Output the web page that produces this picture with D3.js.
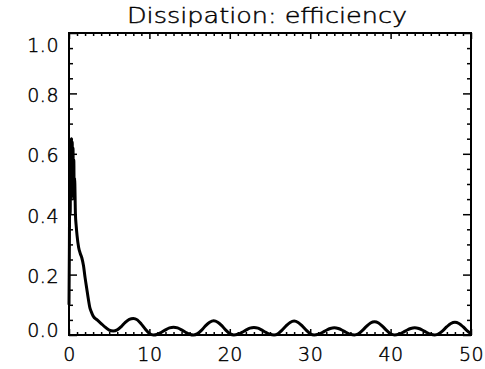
<!DOCTYPE html>
<html>
<head>
<meta charset="utf-8">
<script src="https://cdn.jsdelivr.net/npm/d3@7"></script>
<style>
	body { margin: 0; background: #fff; }
	svg { display: block; }
	text { font-family: "DejaVu Sans", sans-serif; fill: #000; }
</style>
</head>
<body>
<svg id="chart"></svg>
<script>
var width = 485,
	height = 369;

var margin = {top: 33, right: 14, bottom: 34, left: 69};

var titleText = 'Dissipation: efficiency';

var xTicks = [0, 10, 20, 30, 40, 50],
	yTicks = [0.0, 0.2, 0.4, 0.6, 0.8, 1.0];

// time (x) and efficiency (y)
var timeVals = [
	0, 0.05, 0.1, 0.15, 0.2, 0.25, 0.3, 0.35, 0.4, 0.45, 0.5, 0.55, 0.6, 0.65, 0.7, 0.8, 0.9,
	1.0, 1.2, 1.4, 1.6, 1.8, 2.0, 2.2, 2.4, 2.6, 2.8, 3.0, 3.5, 4.0, 4.5,
	5.0, 5.5, 6.0, 6.5, 7.0, 7.5, 8.0, 8.5, 9.0, 9.5, 10.0, 10.5,
	11.0, 11.5, 12.0, 12.5, 13.0, 13.5, 14.0, 14.5, 15.0, 15.5,
	16.0, 16.5, 17.0, 17.5, 18.0, 18.5, 19.0, 19.5, 20.0, 20.5,
	21.0, 21.5, 22.0, 22.5, 23.0, 23.5, 24.0, 24.5, 25.0, 25.5,
	26.0, 26.5, 27.0, 27.5, 28.0, 28.5, 29.0, 29.5, 30.0, 30.5,
	31.0, 31.5, 32.0, 32.5, 33.0, 33.5, 34.0, 34.5, 35.0, 35.5,
	36.0, 36.5, 37.0, 37.5, 38.0, 38.5, 39.0, 39.5, 40.0, 40.5,
	41.0, 41.5, 42.0, 42.5, 43.0, 43.5, 44.0, 44.5, 45.0, 45.5,
	46.0, 46.5, 47.0, 47.5, 48.0, 48.5, 49.0, 49.5, 50.0
];
var effVals = [
	0.10, 0.30, 0.55, 0.40, 0.63, 0.45, 0.65, 0.50, 0.64, 0.48, 0.62, 0.46, 0.58, 0.45, 0.52, 0.40, 0.36,
	0.33, 0.29, 0.27, 0.255, 0.23, 0.19, 0.155, 0.12, 0.09, 0.075, 0.063, 0.050, 0.038, 0.026,
	0.016, 0.013, 0.017, 0.028, 0.042, 0.052, 0.055, 0.050, 0.036, 0.019, 0.005, 0.000,
	0.0025, 0.009, 0.017, 0.0235, 0.026, 0.0235, 0.017, 0.009, 0.0025, 0.000,
	0.0045, 0.016, 0.031, 0.0425, 0.047, 0.0425, 0.031, 0.016, 0.0045, 0.000,
	0.0024, 0.0086, 0.016, 0.0226, 0.025, 0.0226, 0.016, 0.0086, 0.0024, 0.000,
	0.0044, 0.0159, 0.0301, 0.0416, 0.046, 0.0416, 0.0301, 0.0159, 0.0044, 0.000,
	0.0023, 0.0083, 0.0157, 0.0217, 0.024, 0.0217, 0.0157, 0.0083, 0.0023, 0.000,
	0.0042, 0.0152, 0.0288, 0.0398, 0.044, 0.0398, 0.0288, 0.0152, 0.0042, 0.000,
	0.0023, 0.0083, 0.0157, 0.0217, 0.024, 0.0217, 0.0157, 0.0083, 0.0023, 0.000,
	0.004, 0.0145, 0.0275, 0.038, 0.042, 0.038, 0.0275, 0.0145, 0.004
];

var svg = d3.select('#chart')
	.attr('width', width)
	.attr('height', height);

var x = d3.scaleLinear().domain([0, 50]).range([margin.left, width - margin.right]),
	y = d3.scaleLinear().domain([0, 1]).range([height - margin.bottom, margin.top]);

var plotW = x.range()[1] - x.range()[0],
	plotH = y.range()[0] - y.range()[1];

var xMajor = 6, xMinor = 3,  // tick lengths (px)
	yMajor = 8, yMinor = 4;

var xMinorTicks = d3.range(0, 51, 1).filter(function(d) { return d % 10 != 0; }),
	yMinorTicks = d3.range(0, 21, 1).filter(function(d) { return d % 4 != 0; })
		.map(function(d) { return d * 0.05; });

// axes (IDL style, ticks pointing inward, box on all sides)
var axBottom = svg.append('g')
	.attr('transform', 'translate(0,' + y(0) + ')')
	.call(d3.axisBottom(x).tickValues(xTicks).tickSize(-xMajor).tickPadding(13)
		.tickFormat(d3.format('d')));
axBottom.append('g').call(d3.axisBottom(x).tickValues(xMinorTicks).tickSize(-xMinor).tickFormat(''));

var axTop = svg.append('g')
	.attr('transform', 'translate(0,' + y(1) + ')')
	.call(d3.axisTop(x).tickValues(xTicks).tickSize(-xMajor).tickFormat(''));
axTop.append('g').call(d3.axisTop(x).tickValues(xMinorTicks).tickSize(-xMinor).tickFormat(''));

var axLeft = svg.append('g')
	.attr('transform', 'translate(' + x(0) + ',0)')
	.call(d3.axisLeft(y).tickValues(yTicks).tickSize(-yMajor).tickPadding(10)
		.tickFormat(d3.format('.1f')));
axLeft.append('g').call(d3.axisLeft(y).tickValues(yMinorTicks).tickSize(-yMinor).tickFormat(''));

var axRight = svg.append('g')
	.attr('transform', 'translate(' + x(50) + ',0)')
	.call(d3.axisRight(y).tickValues(yTicks).tickSize(-yMajor).tickFormat(''));
axRight.append('g').call(d3.axisRight(y).tickValues(yMinorTicks).tickSize(-yMinor).tickFormat(''));

svg.selectAll('.domain').remove();
svg.selectAll('.tick line').attr('stroke', '#000').attr('stroke-width', 1.5);
svg.selectAll('.tick text')
	.attr('font-family', '"DejaVu Sans", sans-serif')
	.attr('font-weight', 200)
	.attr('font-size', 19)
	.attr('letter-spacing', 0.5)
	.attr('fill', '#000')
	.attr('stroke', '#000')
	.attr('stroke-width', 0.45);
axBottom.selectAll('.tick text').attr('dy', '0.71em');
// end labels sit a little inside the box, as in the original
axLeft.selectAll('.tick text').attr('dy', function(d) {
	if (d == 1) return '0.95em';
	if (d == 0) return '0.1em';
	return '0.42em';
});

svg.append('rect')
	.attr('x', x(0))
	.attr('y', y(1))
	.attr('width', plotW)
	.attr('height', plotH)
	.attr('fill', 'none')
	.attr('stroke', '#000')
	.attr('stroke-width', 2);

// the curve
var pts = timeVals.map(function(t, i) { return [t, effVals[i]]; });

var line = d3.line()
	.x(function(d) { return x(d[0]); })
	.y(function(d) { return y(d[1]); })
	.curve(d3.curveMonotoneX);

svg.append('path')
	.datum(pts)
	.attr('d', line)
	.attr('fill', 'none')
	.attr('stroke', '#000')
	.attr('stroke-width', 3)
	.attr('stroke-linejoin', 'round');

svg.append('text')
	.attr('x', (x(0) + x(50)) / 2 - 3)
	.attr('y', 23)
	.attr('text-anchor', 'middle')
	.attr('font-size', 22)
	.attr('font-weight', 200)
	.attr('stroke', '#000')
	.attr('stroke-width', 0.45)
	.attr('textLength', 280)
	.attr('lengthAdjust', 'spacingAndGlyphs')
	.text(titleText);
</script>
</body>
</html>
